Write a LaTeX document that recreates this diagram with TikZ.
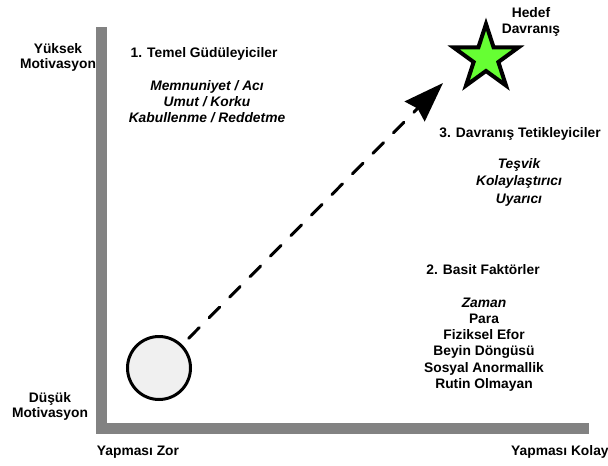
\documentclass[tikz,border=0pt]{standalone}
\usepackage{fontspec}
\setmainfont{Liberation Sans}
\usetikzlibrary{shapes.geometric,arrows.meta}
\definecolor{axisgray}{RGB}{130,130,130}
\definecolor{stargreen}{RGB}{102,255,51}
\definecolor{startfill}{RGB}{240,240,240}
% multi-line labels are anchored at the baseline of their last line
\tikzset{
  lbl/.style={font=\bfseries\fontsize{13.8}{15.5}\selectfont, align=center, inner sep=0pt, anchor=base},
  itl/.style={lbl, font=\bfseries\itshape\fontsize{13.8}{16}\selectfont},
  mvpath/.style={line width=3pt, dash pattern=on 15pt off 14pt, dash phase=20pt, line cap=round,
    -{Stealth[length=40pt, width=28pt, inset=4pt, line join=miter]}},
}
\begin{document}
\begin{tikzpicture}[x=1pt, y=-1pt]
\useasboundingbox (0,0) rectangle (608,466);

% axes
\fill[axisgray] (96,27) rectangle (107,434);
\fill[axisgray] (96,423) rectangle (589,434);

% start and goal
\node[circle, draw, line width=3pt, fill=startfill, minimum size=63pt, inner sep=0pt] (start) at (159,368) {};
\node[star, star points=5, star point ratio=2.618, draw, line width=4pt, fill=stargreen,
      minimum size=68pt, inner sep=0pt] (goal) at (486,58) {};
\coordinate (tip) at (443,83);
\draw[mvpath] (start) -- (tip);

% axis labels
\node[lbl] (hi) at (58,68.5) {Yüksek\\Motivasyon};
\node[lbl, font=\bfseries\fontsize{13.8}{15}\selectfont] (lo) at (50,417) {Düşük\\Motivasyon};
\node[lbl] (hard) at (138,455) {Yapması Zor};
\node[lbl, anchor=base west] (easy) at (511,455) {Yapması Kolay};

% goal label
\node[lbl, font=\bfseries\fontsize{13.8}{16}\selectfont] (goallbl) at (531,33) {Hedef\\Davranış};

% 1. core motivators
\node[lbl] (core) at (204,57) {1. Temel Güdüleyiciler};
\node[itl] (corelist) at (207,122) {Memnuniyet / Acı\\Umut / Korku\\Kabullenme / Reddetme};

% 3. triggers
\node[lbl] (trig) at (520,137) {3. Davranış Tetikleyiciler};
\node[itl, font=\bfseries\itshape\fontsize{13.8}{17.5}\selectfont] (triglist) at (519,203) {Teşvik\\Kolaylaştırıcı\\Uyarıcı};

% 2. simplicity factors
\node[lbl] (simp) at (483,274) {2. Basit Faktörler};
\node[lbl, font=\bfseries\fontsize{13.8}{16.3}\selectfont] (simplist) at (484,388.5)
  {\textit{Zaman}\\Para\\Fiziksel Efor\\Beyin Döngüsü\\Sosyal Anormallik\\Rutin Olmayan};
\end{tikzpicture}
\end{document}
